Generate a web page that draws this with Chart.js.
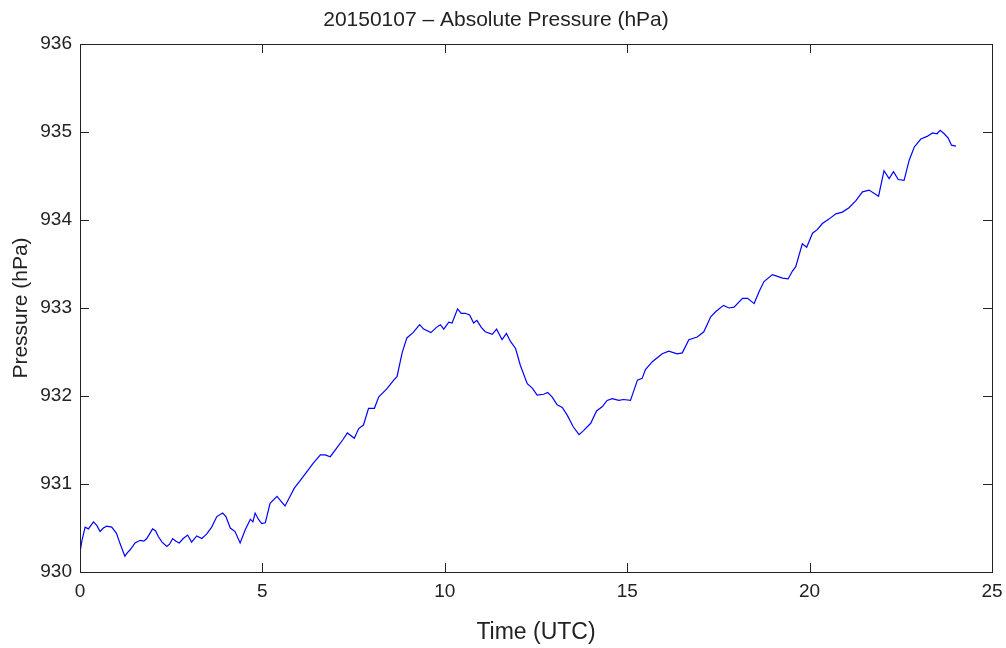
<!DOCTYPE html>
<html>
<head>
<meta charset="utf-8">
<script src="https://cdn.jsdelivr.net/npm/chart.js@4/dist/chart.umd.min.js"></script>
<style>
  html, body { margin: 0; padding: 0; background: #fff; }
  #wrap { width: 1006px; height: 648px; }
</style>
</head>
<body>
<div id="wrap"><canvas id="pressureChart"></canvas></div>
<script>
// hours (UTC) and absolute pressure (hPa)
const hours = [
  0.00, 0.05, 0.14, 0.23, 0.37, 0.46, 0.55, 0.64, 0.73, 0.87, 1.00, 1.10, 1.23, 1.30, 1.37,
  1.51, 1.65, 1.75, 1.83, 1.99, 2.07, 2.15, 2.25, 2.38, 2.46, 2.54, 2.63, 2.72, 2.83, 2.95,
  3.06, 3.20, 3.34, 3.47, 3.61, 3.75, 3.91, 4.00, 4.12, 4.25, 4.39, 4.53, 4.67, 4.74, 4.80,
  4.89, 4.98, 5.08, 5.21, 5.40, 5.52, 5.62, 5.76, 5.87, 6.04, 6.20, 6.40, 6.59, 6.72, 6.86,
  7.04, 7.20, 7.33, 7.52, 7.64, 7.77, 7.91, 8.07, 8.19, 8.41, 8.60, 8.69, 8.83, 8.96, 9.13,
  9.31, 9.42, 9.62, 9.77, 9.88, 9.97, 10.11, 10.20, 10.35, 10.45, 10.56, 10.68, 10.79, 10.88,
  11.00, 11.11, 11.30, 11.42, 11.57, 11.69, 11.80, 11.94, 12.07, 12.26, 12.40, 12.53, 12.71,
  12.82, 12.94, 13.08, 13.22, 13.36, 13.52, 13.68, 13.81, 14.00, 14.16, 14.32, 14.45, 14.59,
  14.77, 14.90, 15.09, 15.28, 15.41, 15.50, 15.69, 15.96, 16.14, 16.37, 16.51, 16.69, 16.92,
  17.10, 17.29, 17.43, 17.64, 17.79, 17.93, 18.16, 18.30, 18.48, 18.62, 18.75, 18.98, 19.26,
  19.41, 19.53, 19.62, 19.80, 19.92, 20.08, 20.21, 20.35, 20.53, 20.72, 20.90, 21.08, 21.27,
  21.45, 21.63, 21.89, 22.04, 22.18, 22.30, 22.43, 22.59, 22.73, 22.87, 23.05, 23.22, 23.37,
  23.49, 23.58, 23.69, 23.80, 23.89, 24.01
];
const pressure = [
  930.22, 930.35, 930.51, 930.49, 930.57, 930.53, 930.46, 930.50, 930.52, 930.51, 930.44, 930.32, 930.18, 930.22, 930.25,
  930.33, 930.36, 930.35, 930.38, 930.49, 930.47, 930.40, 930.34, 930.29, 930.32, 930.38, 930.35, 930.33, 930.38, 930.42,
  930.34, 930.41, 930.38, 930.43, 930.51, 930.63, 930.67, 930.63, 930.50, 930.46, 930.33, 930.48, 930.60, 930.57, 930.67,
  930.60, 930.55, 930.56, 930.78, 930.86, 930.80, 930.75, 930.86, 930.95, 931.04, 931.13, 931.24, 931.33, 931.33, 931.31,
  931.41, 931.50, 931.58, 931.52, 931.63, 931.67, 931.86, 931.86, 931.99, 932.08, 932.18, 932.22, 932.49, 932.66, 932.72,
  932.81, 932.76, 932.72, 932.78, 932.81, 932.76, 932.84, 932.83, 932.99, 932.94, 932.94, 932.92, 932.83, 932.86,
  932.78, 932.73, 932.70, 932.76, 932.64, 932.71, 932.62, 932.54, 932.35, 932.14, 932.09, 932.01, 932.02,
  932.04, 931.99, 931.90, 931.87, 931.78, 931.65, 931.56, 931.61, 931.69, 931.83, 931.88, 931.95, 931.97,
  931.95, 931.96, 931.95, 932.18, 932.20, 932.30, 932.39, 932.48, 932.51, 932.48, 932.49, 932.64, 932.67,
  932.73, 932.90, 932.96, 933.03, 933.00, 933.01, 933.11, 933.11, 933.05, 933.19, 933.30, 933.38, 933.34,
  933.33, 933.42, 933.47, 933.73, 933.69, 933.85, 933.89, 933.96, 934.01, 934.07, 934.09, 934.14, 934.22,
  934.32, 934.34, 934.27, 934.56, 934.47, 934.55, 934.46, 934.45, 934.68, 934.83, 934.92, 934.95, 934.99,
  934.98, 935.02, 934.98, 934.93, 934.85, 934.84
];
const xTicks = [0, 5, 10, 15, 20, 25];
const yTicks = [930, 931, 932, 933, 934, 935, 936];

const FONT = "'Liberation Sans', Arial, Helvetica, sans-serif";

// matlab style box with ticks pointing inward on all four sides
const boxPlugin = {
  id: "boxTicks",
  afterDraw(chart) {
    const { ctx, chartArea: a, scales } = chart;
    const len = 9;
    ctx.save();
    ctx.strokeStyle = "#222";
    ctx.lineWidth = 1;
    ctx.beginPath();
    xTicks.forEach((v) => {
      const px = Math.round(scales.x.getPixelForValue(v)) + 0.5;
      ctx.moveTo(px, a.bottom); ctx.lineTo(px, a.bottom - len);
      ctx.moveTo(px, a.top); ctx.lineTo(px, a.top + len);
    });
    yTicks.forEach((v) => {
      const py = Math.round(scales.y.getPixelForValue(v)) + 0.5;
      ctx.moveTo(a.left, py); ctx.lineTo(a.left + len, py);
      ctx.moveTo(a.right, py); ctx.lineTo(a.right - len, py);
    });
    ctx.stroke();
    ctx.strokeRect(Math.round(a.left) + 0.5, Math.round(a.top) + 0.5,
      Math.round(a.right - a.left), Math.round(a.bottom - a.top));
    ctx.restore();
  },
};

new Chart(document.getElementById("pressureChart"), {
  type: "line",
  data: {
    datasets: [
      {
        data: hours.map((h, i) => ({ x: h, y: pressure[i] })),
        borderColor: "#0000ff",
        borderWidth: 1.2,
        pointRadius: 0,
        tension: 0,
        fill: false,
      },
    ],
  },
  options: {
    responsive: true,
    maintainAspectRatio: false,
    animation: false,
    layout: { padding: { left: 0, right: 14, top: 0, bottom: 0 } },
    plugins: {
      legend: { display: false },
      tooltip: { enabled: false },
      title: {
        display: true,
        text: "20150107 \u2013 Absolute Pressure (hPa)",
        color: "#222",
        font: { family: FONT, size: 21, weight: "normal", lineHeight: 1.2 },
        padding: { top: 7.4, bottom: 11.4 },
      },
    },
    scales: {
      x: {
        type: "linear",
        min: 0,
        max: 25,
        afterBuildTicks: (s) => { s.ticks = xTicks.map((v) => ({ value: v })); },
        afterFit: (s) => {
          s.height = 76;
          s.paddingLeft = 0;
          s.paddingRight = 0;
        },
        grid: { display: false, drawTicks: false },
        border: { display: false },
        ticks: { color: "#222", padding: 8, maxRotation: 0, font: { family: FONT, size: 19 } },
        title: {
          display: true,
          text: "Time (UTC)",
          color: "#222",
          font: { family: FONT, size: 23 },
          padding: { top: 0, bottom: 2 },
        },
      },
      y: {
        min: 930,
        max: 936,
        afterBuildTicks: (s) => { s.ticks = yTicks.map((v) => ({ value: v })); },
        afterFit: (s) => {
          s.width = 80;
          s.paddingTop = 0;
          s.paddingBottom = 0;
        },
        grid: { display: false, drawTicks: false },
        border: { display: false },
        ticks: { color: "#222", padding: 8, font: { family: FONT, size: 19 } },
        title: {
          display: true,
          text: "Pressure (hPa)",
          color: "#222",
          font: { family: FONT, size: 21 },
          padding: { top: 9, bottom: 0 },
        },
      },
    },
  },
  plugins: [boxPlugin],
});
</script>
</body>
</html>
